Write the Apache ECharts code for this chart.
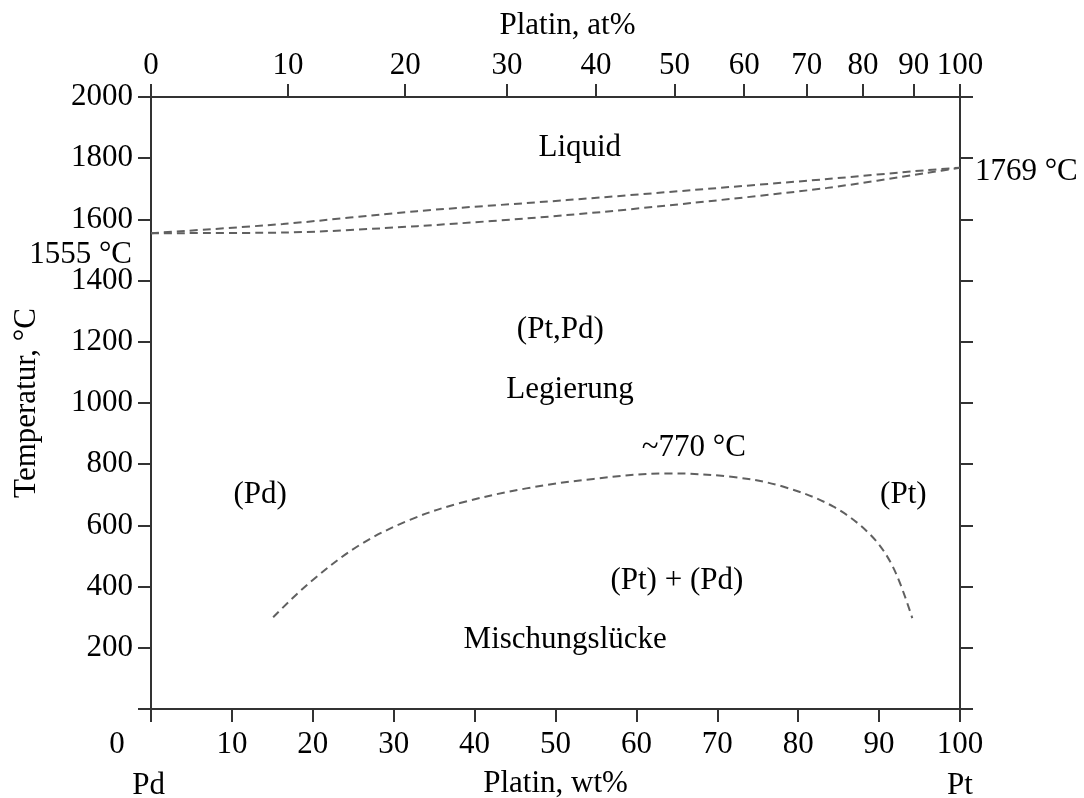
<!DOCTYPE html>
<html>
<head>
<meta charset="utf-8">
<script src="https://cdn.jsdelivr.net/npm/echarts@6/dist/echarts.min.js"></script>
<style>
  html, body { margin: 0; padding: 0; background: #fff; }
  #chart { width: 1084px; height: 798px; }
</style>
</head>
<body>
<div id="chart"></div>
<script>
// ---- data ----
const liquidusWt = [0, 16.3, 32.9, 51.4, 67, 83.6, 95.9, 100];
const liquidusT  = [1555, 1585, 1627, 1663, 1696, 1732, 1761, 1769];
const solidusWt  = [0, 16.3, 32.9, 51.4, 67, 83.6, 95.9, 100];
const solidusT   = [1555, 1557, 1578, 1614, 1654, 1703, 1752, 1769];
const gapWt = [15.1, 19.7, 25.8, 32.0, 38.2, 46.4, 54.7, 63.8, 72.0, 78.1, 84.3, 88.9, 91.7, 94.1];
const gapT  = [300, 415, 536, 618, 673, 721, 752, 770, 758, 727, 662, 570, 465, 297];
const atTicks = [0, 10, 20, 30, 40, 50, 60, 70, 80, 90, 100];
const leaderWt = [-2.0, 0];
const leaderT  = [1536, 1555];
const annTexts = ['Liquid', '(Pt,Pd)', 'Legierung', '~770 °C', '(Pd)', '(Pt)', '(Pt) + (Pd)', 'Mischungslücke'];
const annWt    = [53.0, 50.6, 51.8, 67.1, 13.5, 93.0, 65.0, 51.2];
const annT     = [1835, 1240, 1044, 855, 701, 701, 420, 227];
const outTexts = ['1555 °C', '1769 °C', '0', 'Pd', 'Pt'];
const outWt    = [-2.35, 101.85, -4.2, -0.3, 100];
const outT     = [1485, 1755, -116, -250, -250];
const outAlign = ['right', 'left', 'center', 'center', 'center'];

// atomic masses for the at% <-> wt% axis
const M_PT = 195.08, M_PD = 106.42;
function atToWt(a) { if (a <= 0) return 0; if (a >= 100) return 100; return a * M_PT / (a * M_PT + (100 - a) * M_PD) * 100; }
function wtToAt(w) { if (w <= 0) return 0; if (w >= 100) return 100; return (w / M_PT) / (w / M_PT + (100 - w) / M_PD) * 100; }

const FONT = '"Liberation Serif", "Times New Roman", serif';
const AX = '#333';
const DASH = '#606060';
const FS = 31;

const zip = (a, b) => a.map((v, i) => [v, b[i]]);

const chart = echarts.init(document.getElementById('chart'), null, { renderer: 'canvas' });
const axisCommon = {
  axisLine: { show: true, onZero: false, lineStyle: { color: AX, width: 2 } },
  axisTick: { show: true, inside: false, length: 13, lineStyle: { color: AX, width: 2 } },
  splitLine: { show: false },
  axisLabel: { color: '#000', fontFamily: FONT, fontSize: FS }
};
const textLabel = { show: true, position: 'inside', formatter: p => p.name, color: '#000', fontFamily: FONT, fontSize: FS, opacity: 1 };

chart.setOption({
  animation: false,
  backgroundColor: '#fff',
  textStyle: { fontFamily: FONT },
  grid: { left: 151, right: 124, top: 97, bottom: 89, containLabel: false, outerBoundsMode: 'none' },
  xAxis: [
    Object.assign({}, axisCommon, {
      type: 'value', position: 'bottom', min: 0, max: 100, interval: 10,
      name: 'Platin, wt%', nameLocation: 'middle', nameGap: 59,
      nameTextStyle: { color: '#000', fontFamily: FONT, fontSize: FS },
      axisLabel: Object.assign({}, axisCommon.axisLabel, { margin: 20, formatter: v => v === 0 ? '' : String(v) })
    }),
    Object.assign({}, axisCommon, {
      type: 'value', position: 'top', min: 0, max: 100,
      name: 'Platin, at%', nameLocation: 'middle', nameGap: 56,
      nameTextStyle: { color: '#000', fontFamily: FONT, fontSize: FS, padding: [0, 0, 0, 24] },
      axisTick: Object.assign({}, axisCommon.axisTick, { customValues: atTicks.map(atToWt) }),
      axisLabel: Object.assign({}, axisCommon.axisLabel, {
        margin: 16,
        customValues: atTicks.map(atToWt),
        formatter: v => String(Math.round(wtToAt(v)))
      })
    })
  ],
  yAxis: [
    Object.assign({}, axisCommon, {
      type: 'value', position: 'left', min: 0, max: 2000, interval: 200,
      name: 'Temperatur, °C', nameLocation: 'middle', nameGap: 109, nameRotate: 90,
      nameTextStyle: { color: '#000', fontFamily: FONT, fontSize: FS },
      axisLabel: Object.assign({}, axisCommon.axisLabel, { margin: 18, formatter: v => v === 0 ? '' : String(v) })
    }),
    Object.assign({}, axisCommon, {
      type: 'value', position: 'right', min: 0, max: 2000, interval: 200,
      axisLabel: { show: false }
    })
  ],
  series: [
    {
      type: 'line', name: 'Liquidus', data: zip(liquidusWt, liquidusT), smooth: 0.3,
      showSymbol: false, symbol: 'none',
      lineStyle: { color: DASH, width: 2, type: [8, 5] }
    },
    {
      type: 'line', name: 'Solidus', data: zip(solidusWt, solidusT), smooth: 0.3,
      showSymbol: false, symbol: 'none',
      lineStyle: { color: DASH, width: 2, type: [8, 5] }
    },
    {
      type: 'line', name: 'Mischungslücke', data: zip(gapWt, gapT), smooth: 0.35,
      showSymbol: false, symbol: 'none',
      lineStyle: { color: DASH, width: 2, type: [8, 5] }
    },
    {
      type: 'line', name: 'leader', data: zip(leaderWt, leaderT), clip: false,
      showSymbol: false, symbol: 'none',
      lineStyle: { color: AX, width: 1.5 }
    },
    {
      type: 'scatter', name: 'labels', symbolSize: 0, silent: true,
      itemStyle: { opacity: 1 },
      data: annTexts.map((t, i) => ({ value: [annWt[i], annT[i]], name: t })),
      label: textLabel
    },
    {
      type: 'scatter', name: 'outside', symbolSize: 0, silent: true, clip: false,
      itemStyle: { opacity: 1 },
      data: outTexts.map((t, i) => ({
        value: [outWt[i], outT[i]], name: t,
        label: { align: outAlign[i] }
      })),
      label: textLabel
    }
  ]
});
</script>
</body>
</html>
